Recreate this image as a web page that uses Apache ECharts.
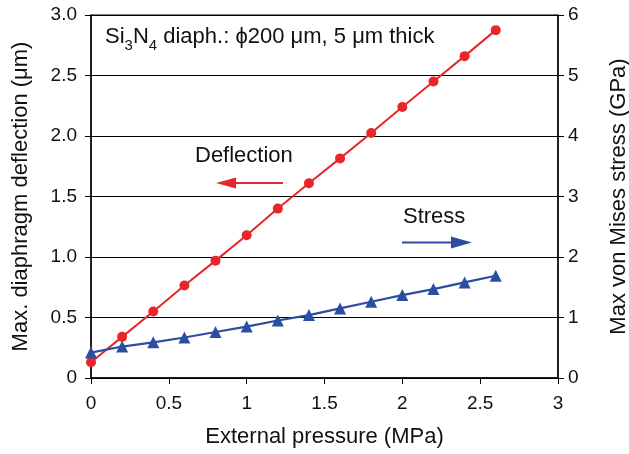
<!DOCTYPE html>
<html><head><meta charset="utf-8">
<script src="https://cdn.jsdelivr.net/npm/echarts@6/dist/echarts.min.js"></script>
<style>html,body{margin:0;padding:0;background:#fff}#c{width:629px;height:454px}</style>
</head><body><div id="c"></div>
<script>
const pressure = [0, 0.2, 0.4, 0.6, 0.8, 1.0, 1.2, 1.4, 1.6, 1.8, 2.0, 2.2, 2.4, 2.6];
const deflection = [0.13, 0.34, 0.55, 0.765, 0.97, 1.18, 1.40, 1.61, 1.815, 2.025, 2.24, 2.45, 2.66, 2.875];
const stress = [0.42, 0.52, 0.59, 0.67, 0.76, 0.85, 0.95, 1.04, 1.15, 1.26, 1.37, 1.47, 1.58, 1.69];

const chart = echarts.init(document.getElementById('c'), null, {renderer: 'canvas'});
const FONT = 'Liberation Sans, Arial, sans-serif';
const RED = '#e8262a', BLUE = '#2a4ea0';
chart.setOption({
  animation: false,
  grid: {left: 91, right: 71, top: 15, bottom: 76, show: true, borderColor: '#000', borderWidth: 1,
         containLabel: false, outerBoundsMode: 'none'},
  xAxis: {
    type: 'value', min: 0, max: 3, interval: 0.5,
    name: 'External pressure (MPa)', nameLocation: 'middle', nameGap: 48,
    nameTextStyle: {fontFamily: FONT, fontSize: 22, color: '#111'},
    axisLine: {onZero: false, lineStyle: {color: '#000', width: 1.5}},
    axisTick: {show: true, inside: false, length: 6, lineStyle: {color: '#000'}},
    axisLabel: {fontFamily: FONT, fontSize: 19, color: '#111', margin: 16, formatter: v => String(v)},
    splitLine: {show: false}
  },
  yAxis: [{
    type: 'value', min: 0, max: 3, interval: 0.5, position: 'left',
    name: 'Max. diaphragm deflection (\u03bcm)', nameLocation: 'middle', nameGap: 59, nameRotate: 90,
    nameTextStyle: {fontFamily: FONT, fontSize: 22, color: '#111'},
    axisLine: {show: true, lineStyle: {color: '#000', width: 1.5}},
    axisTick: {show: true, inside: false, length: 6, lineStyle: {color: '#000'}},
    axisLabel: {fontFamily: FONT, fontSize: 19, color: '#111', margin: 14, formatter: v => v === 0 ? '0' : v.toFixed(1)},
    splitLine: {show: true, lineStyle: {color: '#000', width: 1}}
  }, {
    type: 'value', min: 0, max: 6, interval: 1, position: 'right',
    name: 'Max von Mises stress (GPa)', nameLocation: 'middle', nameGap: 50, nameRotate: 90,
    nameTextStyle: {fontFamily: FONT, fontSize: 22, color: '#111'},
    axisLine: {show: true, lineStyle: {color: '#000', width: 1.5}},
    axisTick: {show: true, inside: false, length: 6, lineStyle: {color: '#000'}},
    axisLabel: {fontFamily: FONT, fontSize: 19, color: '#111', margin: 10},
    splitLine: {show: false}
  }],
  series: [{
    type: 'line', name: 'Deflection', yAxisIndex: 0,
    data: pressure.map((p, i) => [p, deflection[i]]),
    symbol: 'circle', symbolSize: 10, itemStyle: {color: RED},
    lineStyle: {color: RED, width: 2}, z: 3
  }, {
    type: 'line', name: 'Stress', yAxisIndex: 1,
    data: pressure.map((p, i) => [p, stress[i]]),
    symbol: 'triangle', symbolSize: 12, itemStyle: {color: BLUE},
    lineStyle: {color: BLUE, width: 2.2}, z: 4
  }],
  graphic: [
    {type: 'text', left: 105, top: 26, z: 11, style: {
      text: '{n|Si}{s|3}{n|N}{s|4}{n| diaph.: \u03d5200 \u03bcm, 5 \u03bcm thick}',
      rich: {
        n: {fontFamily: FONT, fontSize: 22, fill: '#111', verticalAlign: 'bottom', lineHeight: 26},
        s: {fontFamily: FONT, fontSize: 15, fill: '#111', verticalAlign: 'bottom', lineHeight: 18, padding: [0,0,-5,0]}
      }
    }},
    {type: 'text', left: 195, top: 145, z: 11, style: {text: 'Deflection', font: '22px ' + FONT, fill: '#111'}},
    {type: 'line', z: 11, shape: {x1: 232, y1: 183, x2: 283, y2: 183}, style: {stroke: RED, lineWidth: 2}},
    {type: 'polygon', z: 11, shape: {points: [[216, 183], [236, 177.5], [236, 188.5]]}, style: {fill: RED}},
    {type: 'text', left: 403, top: 206, z: 11, style: {text: 'Stress', font: '22px ' + FONT, fill: '#111'}},
    {type: 'line', z: 11, shape: {x1: 402, y1: 242.5, x2: 455, y2: 242.5}, style: {stroke: BLUE, lineWidth: 2}},
    {type: 'polygon', z: 11, shape: {points: [[472, 242.5], [451, 236.5], [451, 248.5]]}, style: {fill: BLUE}}
  ]
});
</script></body></html>
